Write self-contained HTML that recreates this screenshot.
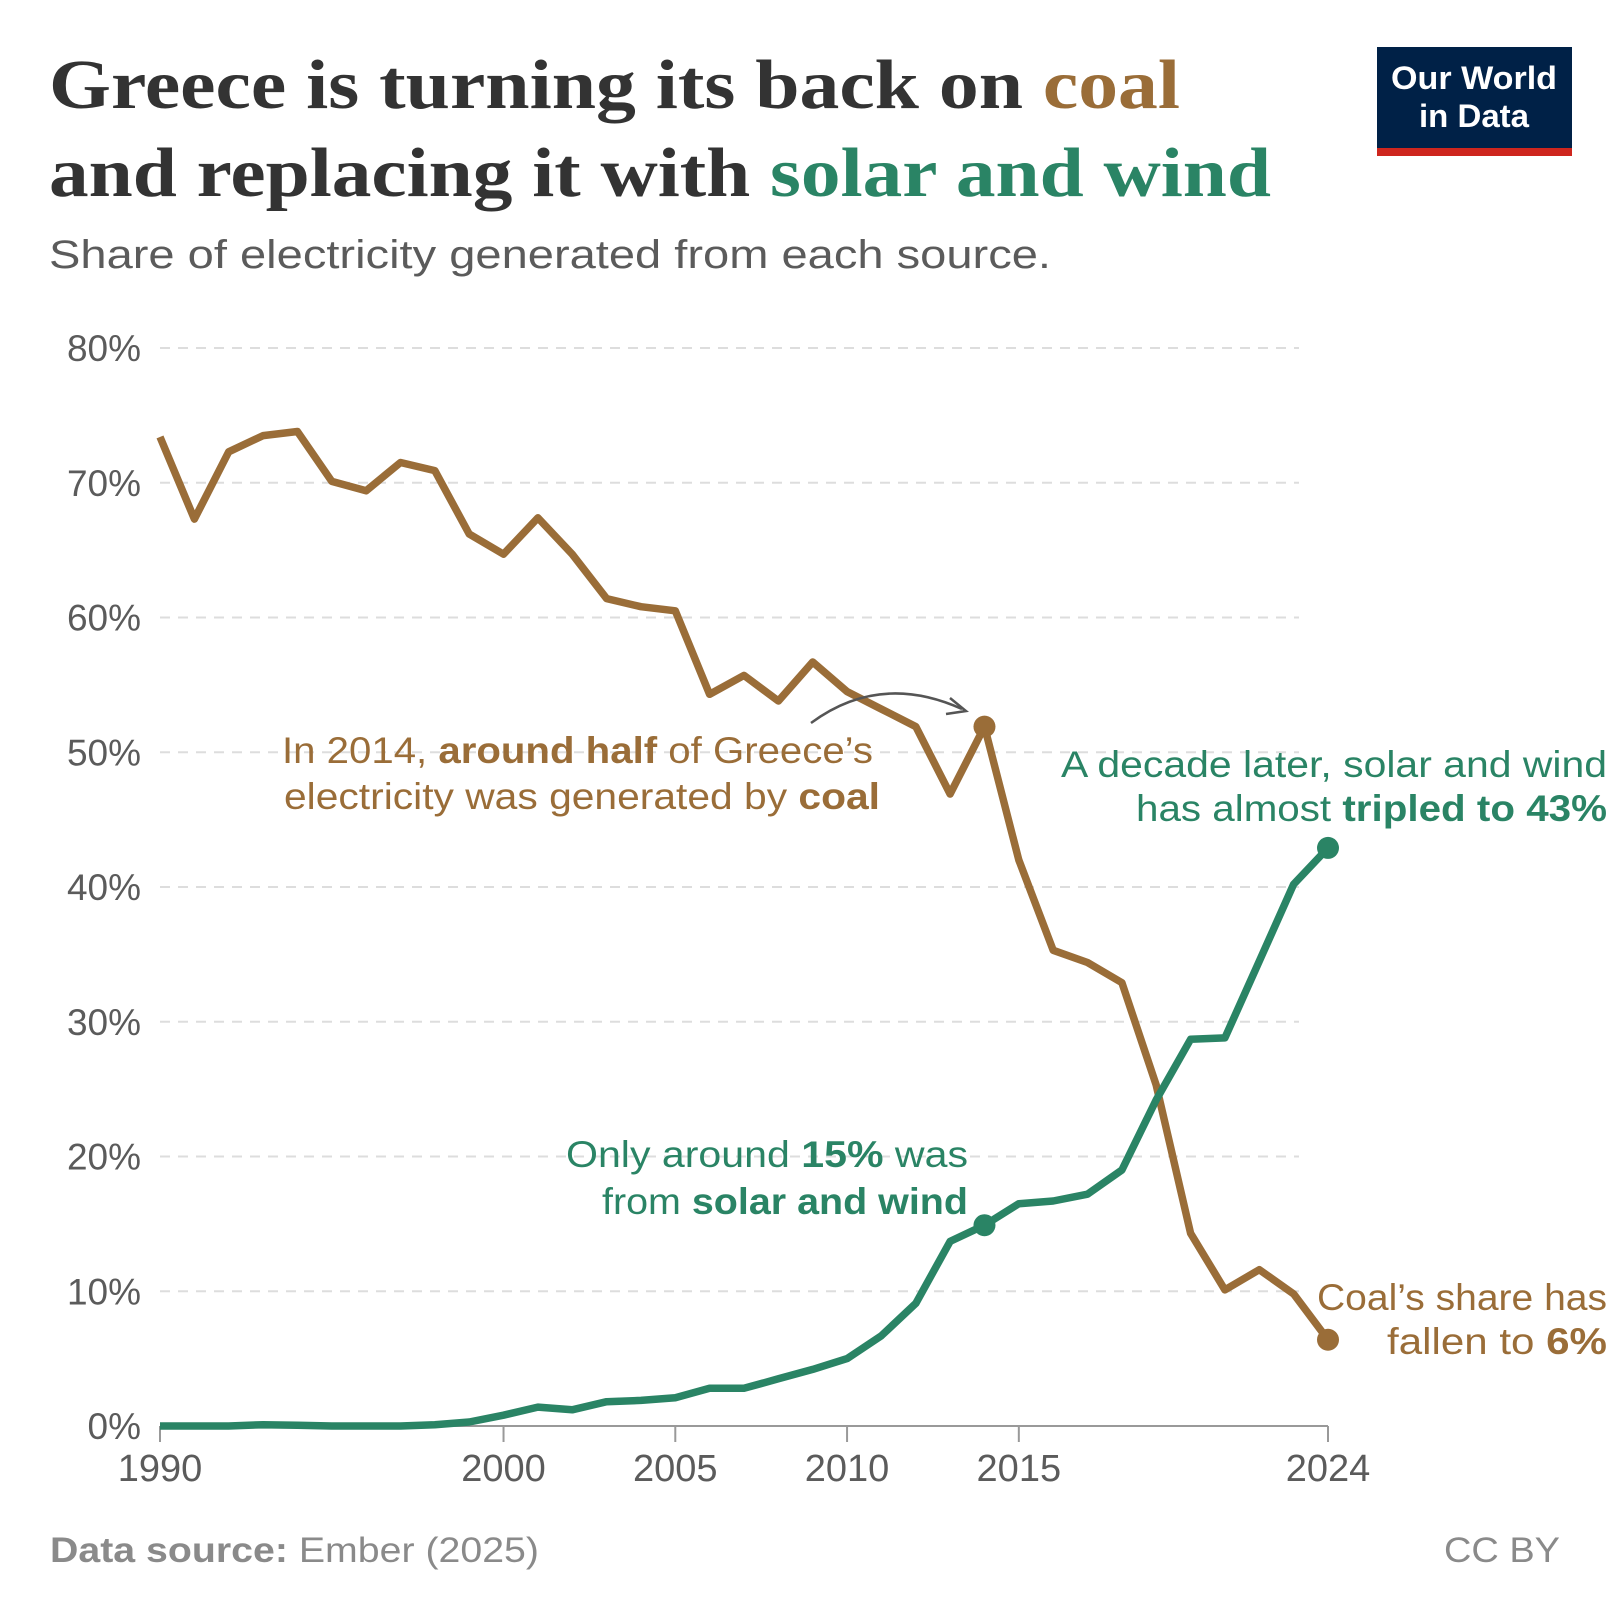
<!DOCTYPE html>
<html><head><meta charset="utf-8"><style>
html,body{margin:0;padding:0;background:#fff;width:1620px;height:1620px;overflow:hidden}
svg{display:block}
</style></head><body>
<svg id="chart" width="1620" height="1620" viewBox="0 0 1620 1620" xmlns="http://www.w3.org/2000/svg">
<g font-family="'Liberation Serif',serif" font-weight="bold" font-size="70" fill="#333">
<text x="49" y="108" textLength="1131" lengthAdjust="spacingAndGlyphs">Greece is turning its back on <tspan fill="#9a6d38">coal</tspan></text>
<text x="49" y="196" textLength="1222" lengthAdjust="spacingAndGlyphs">and replacing it with <tspan fill="#2a8465">solar and wind</tspan></text>
</g>
<text x="49" y="268" font-family="'Liberation Sans',sans-serif" font-size="40" fill="#5b5b5b" textLength="1002" lengthAdjust="spacingAndGlyphs">Share of electricity generated from each source.</text>
<g>
<rect x="1377" y="47" width="195" height="109" fill="#002147"/>
<rect x="1377" y="148" width="195" height="8" fill="#ce261e"/>
<text x="1474" y="89" text-anchor="middle" font-family="'Liberation Sans',sans-serif" font-weight="bold" font-size="32" fill="#fff" textLength="166" lengthAdjust="spacingAndGlyphs">Our World</text>
<text x="1474" y="127" text-anchor="middle" font-family="'Liberation Sans',sans-serif" font-weight="bold" font-size="32" fill="#fff" textLength="110" lengthAdjust="spacingAndGlyphs">in Data</text>
</g>
<g id="grid"></g>
<g id="yaxis"></g>
<g id="xaxis"></g>
<g id="series"></g>
<g font-family="'Liberation Sans',sans-serif" font-size="37">
<path d="M811,723 Q880,672 962,709" fill="none" stroke="#555" stroke-width="2.5"/>
<path d="M950,698 L966,711 L946,714" fill="none" stroke="#555" stroke-width="2.5"/>
<g fill="#9a6d38">
<text x="282" y="763" textLength="591" lengthAdjust="spacingAndGlyphs">In 2014, <tspan font-weight="bold">around half</tspan> of Greece’s</text>
<text x="284" y="809" textLength="596" lengthAdjust="spacingAndGlyphs">electricity was generated by <tspan font-weight="bold">coal</tspan></text>
</g>
<g fill="#2a8465">
<text x="1061" y="777" textLength="546" lengthAdjust="spacingAndGlyphs">A decade later, solar and wind</text>
<text x="1136" y="821" textLength="471" lengthAdjust="spacingAndGlyphs">has almost <tspan font-weight="bold">tripled to 43%</tspan></text>
</g>
<g fill="#2a8465">
<text x="566" y="1167" textLength="402" lengthAdjust="spacingAndGlyphs">Only around <tspan font-weight="bold">15%</tspan> was</text>
<text x="602" y="1214" textLength="366" lengthAdjust="spacingAndGlyphs">from <tspan font-weight="bold">solar and wind</tspan></text>
</g>
<g fill="#9a6d38">
<text x="1317" y="1310" textLength="290" lengthAdjust="spacingAndGlyphs">Coal’s share has</text>
<text x="1387" y="1354" textLength="220" lengthAdjust="spacingAndGlyphs">fallen to <tspan font-weight="bold">6%</tspan></text>
</g>
</g>
<g font-family="'Liberation Sans',sans-serif" font-size="35" fill="#8a8a8a">
<text x="50" y="1562" textLength="489" lengthAdjust="spacingAndGlyphs"><tspan font-weight="bold">Data source:</tspan> Ember (2025)</text>
<text x="1444" y="1562" textLength="116" lengthAdjust="spacingAndGlyphs">CC BY</text>
</g>
</svg>
<script>
const years = [1990,1991,1992,1993,1994,1995,1996,1997,1998,1999,2000,2001,2002,2003,2004,2005,2006,2007,2008,2009,2010,2011,2012,2013,2014,2015,2016,2017,2018,2019,2020,2021,2022,2023,2024];
const coalValues = [73.4,67.3,72.3,73.5,73.8,70.1,69.4,71.5,70.9,66.2,64.7,67.4,64.7,61.4,60.8,60.5,54.3,55.7,53.8,56.7,54.5,53.2,51.9,46.9,51.9,42.0,35.3,34.4,32.9,25.3,14.3,10.1,11.6,9.8,6.4];
const solarWindValues = [0,0,0,0.1,0.05,0,0,0,0.1,0.3,0.8,1.4,1.2,1.8,1.9,2.1,2.8,2.8,3.5,4.2,5.0,6.7,9.1,13.7,14.9,16.5,16.7,17.2,19.0,24.2,28.7,28.8,34.5,40.2,42.9];
const yTicks = [0,10,20,30,40,50,60,70,80];
const yTickLabels = ["0%","10%","20%","30%","40%","50%","60%","70%","80%"];
const xTicks = [1990,2000,2005,2010,2015,2024];

const NS = "http://www.w3.org/2000/svg";
const X0 = 160, X1 = 1328, Y0 = 1426, Y80 = 348;
function xs(v){ return X0 + (v-1990)/(2024-1990)*(X1-X0); }
function ys(v){ return Y0 - v/80*(Y0-Y80); }
function mk(tag, attrs, parent){ const e=document.createElementNS(NS,tag); for(const k in attrs) e.setAttribute(k,attrs[k]); parent.appendChild(e); return e; }

const grid=document.getElementById('grid'), yax=document.getElementById('yaxis'), xax=document.getElementById('xaxis'), ser=document.getElementById('series');
yTicks.forEach((t,i)=>{
  if(t>0){
    const l=mk('line',{x1:X0,x2:1299,y1:ys(t),y2:ys(t),stroke:'#dddddd','stroke-width':2,'stroke-dasharray':'10,8'},grid);
    
    
  }
  const lab=yTickLabels[i];
  const tx=mk('text',{x:141,y:ys(t)+13,'text-anchor':'end','font-family':"'Liberation Sans',sans-serif",'font-size':37,fill:'#5b5b5b'},yax);
  tx.textContent=lab;
  
  
});
const axl=mk('line',{x1:X0,x2:X1,y1:Y0,y2:Y0,stroke:'#999','stroke-width':2},xax);


xTicks.forEach(t=>{
  const tk=mk('line',{x1:xs(t),x2:xs(t),y1:Y0,y2:Y0+16,stroke:'#999','stroke-width':2},xax);
  
  
  const tx=mk('text',{x:xs(t),y:1481,'text-anchor':'middle','font-family':"'Liberation Sans',sans-serif",'font-size':38,fill:'#5b5b5b'},xax);
  tx.textContent=String(t);
  
  
});
function drawSeries(vals,color,name){
  const d=vals.map((v,i)=>(i?'L':'M')+xs(years[i]).toFixed(1)+','+ys(v).toFixed(1)).join(' ');
  const p=mk('path',{d:d,fill:'none',stroke:color,'stroke-width':7.5,'stroke-linejoin':'round'},ser);
  
  
  [2014,2024].forEach(y=>{
    const i=years.indexOf(y);
    const c=mk('circle',{cx:xs(y),cy:ys(vals[i]),r:11,fill:color},ser);
    
    
  });
}
drawSeries(coalValues,'#9a6d38','coal');
drawSeries(solarWindValues,'#2a8465','solar-wind');
</script>
</body></html>
